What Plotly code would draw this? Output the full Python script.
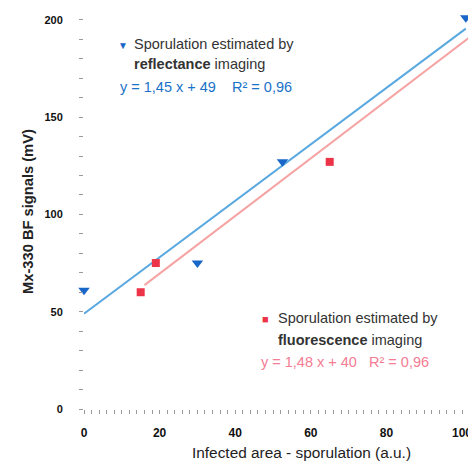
import plotly.graph_objects as go

# Data
refl_x = [0, 30, 52.5, 101]
refl_y = [61, 75, 127, 201]
fluo_x = [15, 19, 65, 103]
fluo_y = [60, 75, 127, 201]

refl_slope, refl_icpt = 1.45, 49
fluo_slope, fluo_icpt = 1.48, 40
refl_span = [0, 101]
fluo_span = [16, 106]

x_ticks = [0, 20, 40, 60, 80, 100]
y_ticks = [0, 50, 100, 150, 200]

BLUE_LINE = "#5aa8e0"
RED_LINE = "#f6a3a3"
BLUE_MK = "#1866c8"
RED_MK = "#ec3347"

fig = go.Figure()
fig.add_trace(go.Scatter(x=refl_span, y=[refl_slope * v + refl_icpt for v in refl_span],
                         mode="lines", line=dict(color=BLUE_LINE, width=2), showlegend=False))
fig.add_trace(go.Scatter(x=fluo_span, y=[fluo_slope * v + fluo_icpt for v in fluo_span],
                         mode="lines", line=dict(color=RED_LINE, width=2), showlegend=False))
fig.add_trace(go.Scatter(x=refl_x, y=refl_y, mode="markers",
                         marker=dict(symbol="triangle-down", size=10, color=BLUE_MK),
                         showlegend=False, cliponaxis=False))
fig.add_trace(go.Scatter(x=fluo_x, y=fluo_y, mode="markers",
                         marker=dict(symbol="square", size=8, color=RED_MK),
                         showlegend=False, cliponaxis=False))

font = "Liberation Sans, Arial, sans-serif"
# page body has an 8px margin: figure is placed at (8, 8)
OFF = 8
W, H = 476 - OFF, 464 - OFF
L, R, T, B = 84 - OFF, 0, 0, 55
px0, py0 = 84, 8
pw, ph = 476 - px0, 409 - py0

anns = [
    dict(x=123, y=45, text="▼", size=10, color=BLUE_MK, anchor="center"),
    dict(x=132, y=44, text="Sporulation estimated by", size=14.5, color="#333333", anchor="left"),
    dict(x=132, y=64, text="<b>reflectance</b> imaging", size=14.5, color="#333333", anchor="left"),
    dict(x=118, y=87, text="y = 1,45 x + 49&nbsp;&nbsp;&nbsp;&nbsp;R² = 0,96", size=14.5, color="#1a72c8", anchor="left"),
    dict(x=265, y=319, text="■", size=11, color=RED_MK, anchor="center"),
    dict(x=276, y=318, text="Sporulation estimated by", size=14.5, color="#333333", anchor="left"),
    dict(x=276, y=340, text="<b>fluorescence</b> imaging", size=14.5, color="#333333", anchor="left"),
    dict(x=259, y=362, text="y = 1,48 x + 40&nbsp;&nbsp;&nbsp;R² = 0,96", size=14.5, color="#f47c93", anchor="left"),
    dict(x=301, y=452, text="Infected area - sporulation (a.u.)", size=15.4, color="#222222", anchor="center"),
]
annotations = []
for a in anns:
    annotations.append(dict(x=(a["x"] - px0) / pw, y=1 - (a["y"] - py0) / ph,
                            xref="paper", yref="paper",
                            xanchor=a["anchor"], yanchor="middle", text=a["text"], showarrow=False,
                            font=dict(family=font, size=a["size"], color=a["color"])))
annotations.append(dict(x=(28 - px0) / pw, y=1 - (212 - py0) / ph, xref="paper", yref="paper",
                        xanchor="center", yanchor="middle", textangle=-90, showarrow=False,
                        text="<b>Mx-330 BF signals (mV)</b>",
                        font=dict(family=font, size=14.7, color="#222222")))

y_top = (409 - py0) / 1.946

fig.update_layout(
    width=W, height=H,
    margin=dict(l=L, r=R, t=T, b=B, autoexpand=False),
    plot_bgcolor="white", paper_bgcolor="white",
    font=dict(family=font, color="#222222"),
    annotations=annotations,
    xaxis=dict(range=[0, 103.7], tickvals=x_ticks, showgrid=False, zeroline=False,
               automargin=False,
               showline=False, ticks="outside", ticklen=13, tickcolor="rgba(0,0,0,0)",
               tickfont=dict(size=12, color="#111111", weight="bold"),
               minor=dict(dtick=2, ticks="outside", ticklen=4, tickcolor="#999999", tickwidth=1)),
    yaxis=dict(range=[0, y_top], tickvals=y_ticks, showgrid=False, zeroline=False,
               automargin=False,
               showline=False, ticks="outside", ticklen=18, tickcolor="rgba(0,0,0,0)",
               tickfont=dict(size=11, color="#111111", weight="bold"),
               minor=dict(dtick=10, ticks="outside", ticklen=4, tickcolor="#999999", tickwidth=1)),
)
fig.write_html("out.html")
